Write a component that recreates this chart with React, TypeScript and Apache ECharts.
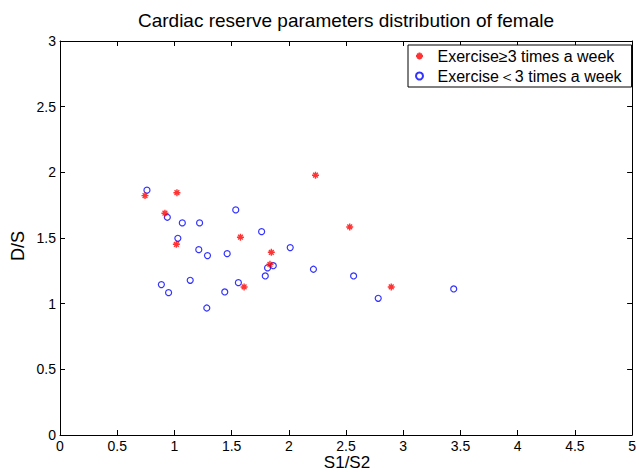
import React, { useEffect, useRef } from "react";
import * as echarts from "echarts";

const titleText = "Cardiac reserve parameters distribution of female";
const xName = "S1/S2";
const yName = "D/S";
const seriesNames = ["Exercise≥3 times a week", "Exercise＜3 times a week"];

const exerciseHighX = [0.743, 1.022, 0.917, 1.017, 1.577, 1.847, 1.835, 1.609, 2.233, 2.532, 2.895];
const exerciseHighY = [1.823, 1.845, 1.689, 1.452, 1.506, 1.391, 1.3, 1.127, 1.978, 1.584, 1.127];

const exerciseLowX = [0.76, 0.938, 1.069, 1.22, 1.536, 1.03, 1.213, 1.289, 1.461, 1.762, 2.012, 1.814, 1.864, 1.794, 0.886, 0.949, 1.138, 1.44, 1.559, 1.283, 2.215, 2.566, 2.781, 3.441];
const exerciseLowY = [1.864, 1.658, 1.615, 1.615, 1.714, 1.498, 1.411, 1.366, 1.381, 1.548, 1.427, 1.272, 1.289, 1.211, 1.145, 1.084, 1.178, 1.089, 1.16, 0.967, 1.262, 1.211, 1.041, 1.112];

const FONT = "Arial, 'Liberation Sans', sans-serif";
const STAR = "path://M0,5L10,5M5,0L5,10M1.6,1.6L8.4,8.4M8.4,1.6L1.6,8.4";

export default function App() {
  const ref = useRef<HTMLDivElement>(null);
  useEffect(() => {
    if (!ref.current) return;
    const chart = echarts.init(ref.current, null, { renderer: "svg" });
    const highData = exerciseHighX.map((x, i) => [x, exerciseHighY[i]]);
    const lowData = exerciseLowX.map((x, i) => [x, exerciseLowY[i]]);
    const axisCommon = {
      min: 0,
      axisLine: { show: true, onZero: false, lineStyle: { color: "#000", width: 1 } },
      axisTick: { show: true, inside: true, length: 5, lineStyle: { color: "#000" } },
      splitLine: { show: false },
    };
    chart.setOption({
      animation: false,
      backgroundColor: "#fff",
      grid: { left: 60, top: 41, right: 5, bottom: 37, containLabel: false },
      xAxis: [
        {
          ...axisCommon,
          type: "value",
          position: "bottom",
          max: 5,
          interval: 0.5,
          axisLabel: { color: "#000", fontSize: 14, fontFamily: FONT, margin: 4 },
        },
        {
          ...axisCommon,
          type: "value",
          position: "top",
          max: 5,
          interval: 0.5,
          axisLabel: { show: false },
        },
      ],
      yAxis: [
        {
          ...axisCommon,
          type: "value",
          position: "left",
          max: 3,
          interval: 0.5,
          axisLabel: { color: "#000", fontSize: 14, fontFamily: FONT, margin: 4 },
        },
        {
          ...axisCommon,
          type: "value",
          position: "right",
          max: 3,
          interval: 0.5,
          axisLabel: { show: false },
        },
      ],
      legend: {
        orient: "vertical",
        left: 408,
        top: 45,
        backgroundColor: "#fff",
        borderColor: "#000",
        borderWidth: 1,
        padding: [3, 10, 3, 7],
        itemWidth: 26,
        itemHeight: 7,
        itemGap: 4,
        textStyle: { color: "#000", fontSize: 16, fontFamily: FONT, lineHeight: 16 },
        data: seriesNames,
      },
      graphic: [
        {
          type: "text",
          x: 346,
          y: 20,
          style: {
            text: titleText,
            fill: "#000",
            font: `19px ${FONT}`,
            textAlign: "center",
            textVerticalAlign: "middle",
          },
        },
        {
          type: "text",
          x: 347,
          y: 462,
          style: {
            text: xName,
            fill: "#000",
            font: `17px ${FONT}`,
            textAlign: "center",
            textVerticalAlign: "middle",
          },
        },
        {
          type: "text",
          x: 18,
          y: 246,
          rotation: Math.PI / 2,
          style: {
            text: yName,
            fill: "#000",
            font: `18px ${FONT}`,
            textAlign: "center",
            textVerticalAlign: "middle",
          },
        },
      ],
      series: [
        {
          name: seriesNames[0],
          type: "scatter",
          symbol: STAR,
          symbolSize: 7,
          itemStyle: { color: "#ff0000", borderColor: "#ff0000", borderWidth: 1.4 },
          data: highData,
          z: 3,
        },
        {
          name: seriesNames[1],
          type: "scatter",
          symbol: "circle",
          symbolSize: 6,
          itemStyle: { color: "rgba(255,255,255,0)", borderColor: "#0000ff", borderWidth: 1.2 },
          data: lowData,
          z: 2,
        },
      ],
    });
    return () => chart.dispose();
  }, []);
  return (
    <div
      ref={ref}
      style={{ position: "fixed", left: 0, top: 0, width: 639, height: 472, background: "#fff" }}
    />
  );
}
